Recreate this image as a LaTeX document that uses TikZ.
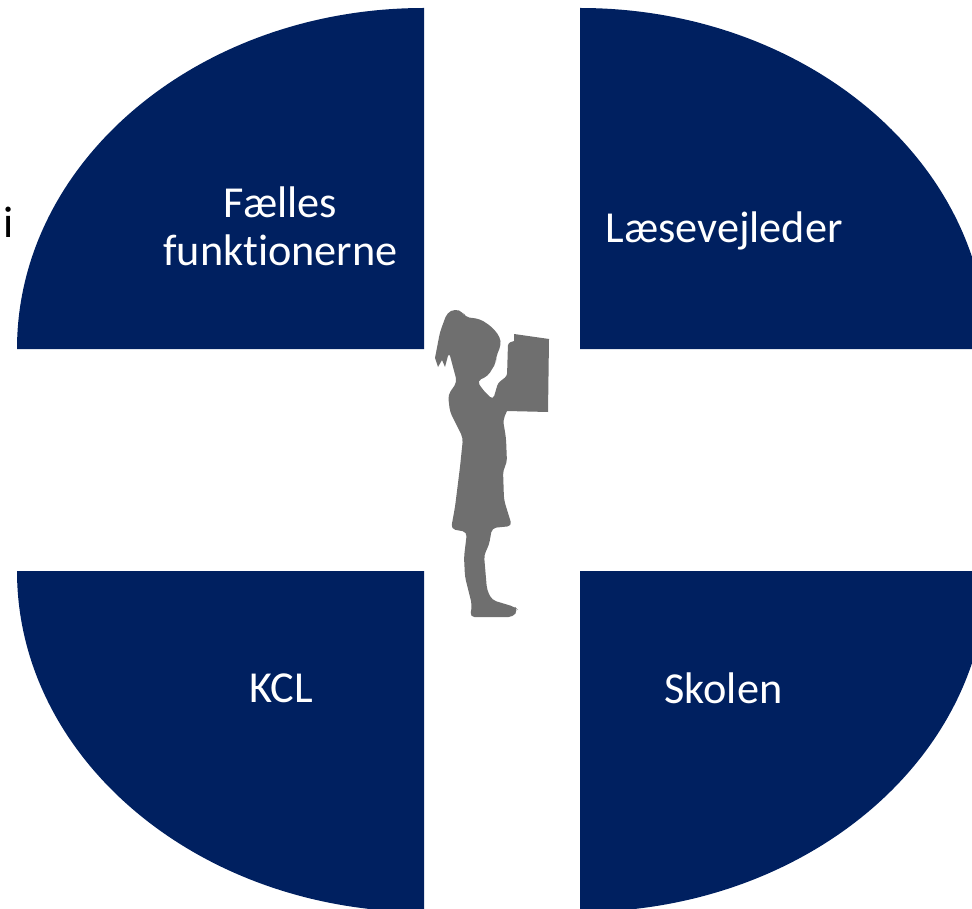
\documentclass[tikz,border=0pt]{standalone}
\usepackage{fontspec}
\setmainfont[Ligatures=NoCommon]{Carlito}
\usepackage{tikz}
\definecolor{navy}{HTML}{002060}
\definecolor{girlgray}{HTML}{6F6F6F}

\begin{document}
\begin{tikzpicture}[x=0.02cm, y=-0.02cm]
	  \tikzstyle{every node} = [text=white, align=center, font=\fontsize{25.2}{27.2}\selectfont]
	  \useasboundingbox (0, 0) rectangle (972, 908);
	  \clip (0, 0) rectangle (972, 908);
	  \foreach \cx/\cy/\from/\to in {424/349/180/270, 580/349/0/-90, 424/571/180/90, 580/571/0/90}
	    \fill [navy] (\cx, \cy) -- ++(\from:407 and 341) arc [start angle=\from, end angle=\to, x radius=407, y radius=341] -- cycle;
	  % girl with the book
	  \fill [girlgray, rounded corners=2.5pt] (455, 309) -- (463, 312) -- (465, 317) -- (480, 319) -- (492, 327) -- (500, 337) -- (501, 345)
	    -- (496, 357) -- (496, 363) -- (492, 369) -- (488, 376) -- (477, 381) -- (483, 390)
	    -- (493, 400) [rounded corners=1.5pt] -- (498, 383) -- (507, 376) -- (508, 343) [sharp corners] -- (514, 341) -- (514, 334)
	    -- (549, 339) -- (548, 412) -- (507, 411) [rounded corners=2.5pt] -- (503, 420) -- (506, 438)
	    -- (507, 463) -- (503, 470) -- (504, 500) -- (512, 526) -- (492, 528) -- (489, 545) -- (484, 555)
	    -- (487, 590) -- (492, 600) -- (515, 607) -- (518, 610) -- (513, 617) -- (470, 617) -- (472, 605)
	    -- (465, 577) -- (464, 557) -- (467, 532) -- (451, 529) -- (455, 507) -- (460, 467) -- (463, 438)
	    -- (450, 412) -- (448, 395) -- (457, 382) -- (449, 352) [sharp corners] -- (445, 367) -- (442, 360) -- (438, 367)
	    -- (435, 358) [rounded corners=2.5pt] -- (440, 332) -- (447, 313) -- cycle;
	  \node (faelles) at (280.5, 226.5) {Fælles\\funktionerne};
	  \node (laese) at (724, 230.5) {Læsevejleder};
	  \node (kcl) at (281, 688.5) {KCL};
	  \node (skolen) at (723.5, 688.5) {Skolen};
	  \node [text=black] (i) at (9, 222) {i};
	\end{tikzpicture}
\end{document}
